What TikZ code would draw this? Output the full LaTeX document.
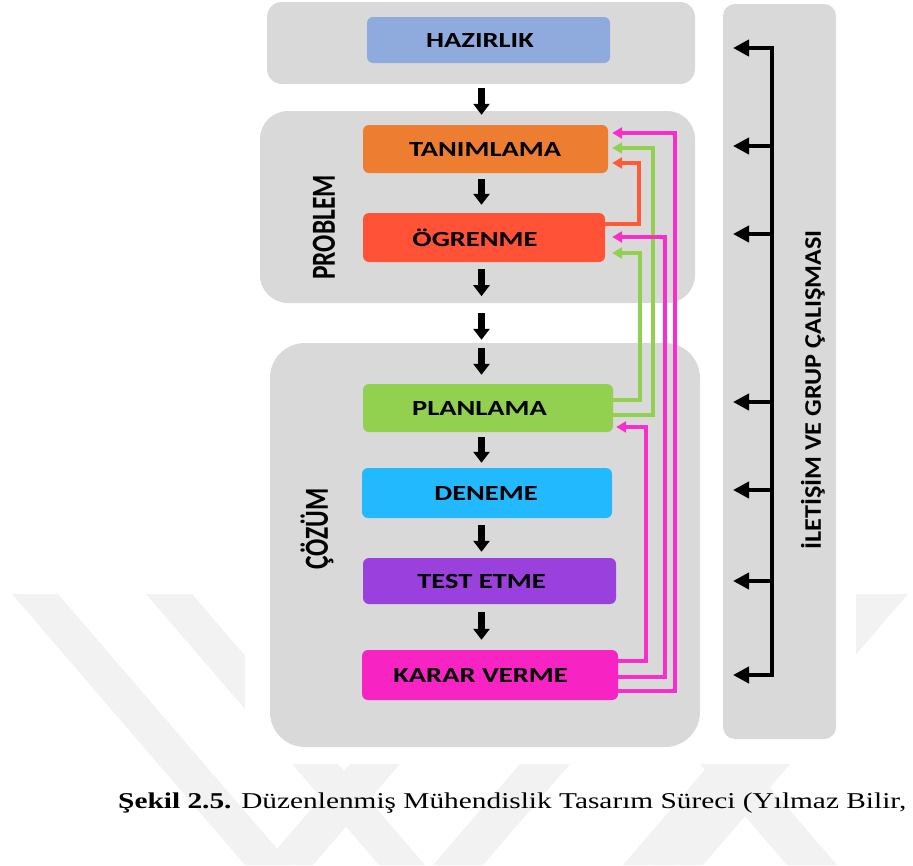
\documentclass[tikz,border=0pt]{standalone}
\usepackage{fontspec}
\setmainfont{Carlito}
\newfontfamily\capfont{Liberation Serif}
\usetikzlibrary{arrows.meta,calc}
\definecolor{grp}{HTML}{D9D9D9}
\definecolor{wmk}{HTML}{F2F2F2}
\definecolor{chaz}{HTML}{8FAADC}
\definecolor{ctan}{HTML}{ED7D31}
\definecolor{cogr}{HTML}{FF5236}
\definecolor{cplan}{HTML}{92D050}
\definecolor{cden}{HTML}{22B9FF}
\definecolor{ctest}{HTML}{9A40DC}
\definecolor{ckar}{HTML}{F724C3}
\definecolor{lmag}{HTML}{F72FC8}
\definecolor{lgrn}{HTML}{92D050}
\definecolor{lred}{HTML}{FF5A36}
\newcommand{\hs}[1]{\scalebox{1.32}[1]{#1}}
\begin{document}
\begin{tikzpicture}[x=1pt,y=-1pt,
  grouprect/.style={fill=grp,draw=none,inner sep=0pt,rectangle},
  stepbox/.style={draw=none,inner sep=0pt,rectangle,rounded corners=6pt},
  lbl/.style={font=\bfseries\fontsize{21.6}{24}\selectfont,inner sep=0pt,text=black},
  downarr/.style={line width=6.5pt,black,-{Triangle[width=16pt,length=11pt]}},
  larr/.style={line width=4pt,black,-{Triangle[width=16pt,length=16pt]}},
  fb/.style={line width=3.2pt,line join=miter,-{Triangle[width=11pt,length=10pt]}},
  vlab/.style={rotate=90,inner sep=0pt,font=\bfseries\fontsize{25.5}{28}\selectfont}]
\useasboundingbox (0,0) rectangle (913,865);
% watermark
\begin{scope}
\clip (0,594) rectangle (913,865);
\fill[wmk] (12,594) -- (58,594) -- (291,865) -- (245,865) -- cycle;
\fill[wmk] (146,594) -- (192,594) -- (425,865) -- (379,865) -- cycle;
\fill[wmk] (856,594) -- (908,594) -- (675,865) -- (623,865) -- cycle;
\fill[wmk] (350,764) -- (400,764) -- (313,865) -- (263,865) -- cycle;
\fill[wmk] (520,764) -- (570,764) -- (483,865) -- (433,865) -- cycle;
\fill[wmk] (740,764) -- (790,764) -- (703,865) -- (653,865) -- cycle;
\fill[wmk] (700,764) -- (750,764) -- (837,865) -- (787,865) -- cycle;
\fill[white] (245,0) rectangle (856,764);
\end{scope}
% group backgrounds
\node[grouprect,rounded corners=15pt,minimum width=428pt,minimum height=82pt] (hazbg) at (481,43) {};
\node[grouprect,rounded corners=28pt,minimum width=435pt,minimum height=192pt] (probbg) at (477.5,207) {};
\node[grouprect,rounded corners=35pt,minimum width=430pt,minimum height=404pt] (cozbg) at (485,545) {};
\node[grouprect,rounded corners=12pt,minimum width=113pt,minimum height=735pt] (iletbg) at (779.5,371.5) {};
% step boxes
\node[stepbox,fill=chaz,minimum width=243pt,minimum height=46pt,label={[lbl,xshift=-8.5pt]center:\hs{HAZIRLIK}}] (haz) at (488.5,40) {};
\node[stepbox,fill=ctan,minimum width=245pt,minimum height=48pt,label={[lbl,xshift=-0.5pt]center:\hs{TANIMLAMA}}] (tan) at (485.5,149) {};
\node[stepbox,fill=cogr,minimum width=242pt,minimum height=49pt,label={[lbl,xshift=-9pt]center:\hs{ÖGRENME}}] (ogr) at (484,237.5) {};
\node[stepbox,fill=cplan,minimum width=250pt,minimum height=48pt,label={[lbl,xshift=-8.5pt]center:\hs{PLANLAMA}}] (plan) at (488,408) {};
\node[stepbox,fill=cden,minimum width=250pt,minimum height=50pt,label={[lbl,xshift=-1pt]center:\hs{DENEME}}] (den) at (487,493) {};
\node[stepbox,fill=ctest,minimum width=253pt,minimum height=46pt,label={[lbl,xshift=-8pt]center:\hs{TEST ETME}}] (test) at (489.5,581) {};
\node[stepbox,fill=ckar,minimum width=256pt,minimum height=50pt,label={[lbl,xshift=-9.5pt]center:\hs{KARAR VERME}}] (kar) at (490,675) {};
% side labels
\node[vlab] (plbl) at (324,227.5) {\scalebox{1}[1.32]{PROBLEM}};
\node[vlab] (clbl) at (317,529) {\scalebox{1}[1.32]{ÇÖZÜM}};
\node[rotate=90,inner sep=0pt,font=\bfseries\fontsize{18}{20}\selectfont] (ilbl) at (813,390) {\scalebox{1.455}[1.32]{İLETİŞİM VE GRUP ÇALIŞMASI}};
% down arrows
\draw[downarr,shorten <=4pt,shorten >=-4pt] (hazbg.south -| 481.5,0) -- (probbg.north -| 481.5,0);
\draw[downarr,shorten <=6pt,shorten >=8pt] (tan.south -| 481.5,0) -- (ogr.north -| 481.5,0);
\draw[downarr,shorten <=7pt,shorten >=7pt] (ogr.south -| 481.5,0) -- (probbg.south -| 481.5,0);
\draw[downarr,shorten <=10pt,shorten >=3pt] (probbg.south -| 481.5,0) -- (cozbg.north -| 481.5,0);
\draw[downarr,shorten <=5pt,shorten >=9pt] (cozbg.north -| 481.5,0) -- (plan.north -| 481.5,0);
\draw[downarr,shorten <=5pt,shorten >=5pt] (plan.south -| 481.5,0) -- (den.north -| 481.5,0);
\draw[downarr,shorten <=7pt,shorten >=6pt] (den.south -| 481.5,0) -- (test.north -| 481.5,0);
\draw[downarr,shorten <=8pt,shorten >=10pt] (test.south -| 481.5,0) -- (kar.north -| 481.5,0);
% communication spine
\foreach \k/\yy in {1/48,2/146,3/234,4/402,5/490,6/581,7/675}{
  \coordinate (s\k) at (772,\yy);
  \coordinate (t\k) at (733,\yy);
}
\draw[line width=4pt,line cap=rect] (s1) -- (s7);
\foreach \k in {1,...,7}{\draw[larr] (s\k) -- (t\k);}
% feedback loops
\draw[fb,lred,shorten >=4pt] (ogr.east |- 0,224) -- (639,224) -- (639,163) -- (tan.east |- 0,163);
\draw[fb,lgrn,shorten >=4pt] (plan.east |- 0,415) -- (653,415) -- (653,148) -- (tan.east |- 0,148);
\draw[fb,lgrn,shorten >=7pt] (plan.east |- 0,400) -- (640,400) -- (640,253) -- (ogr.east |- 0,253);
\draw[fb,lmag,shorten >=4pt] (kar.east |- 0,691) -- (675,691) -- (675,133) -- (tan.east |- 0,133);
\draw[fb,lmag,shorten >=7pt] (kar.east |- 0,677) -- (665,677) -- (665,237) -- (ogr.east |- 0,237);
\draw[fb,lmag,shorten >=3pt] (kar.east |- 0,661) -- (646,661) -- (646,427) -- (plan.east |- 0,427);
% caption
\node[anchor=base west,inner sep=0pt] (cap) at (118,808) {\resizebox{788pt}{\height}{\capfont\fontsize{22.6}{26}\selectfont\textbf{Şekil 2.5.} Düzenlenmiş Mühendislik Tasarım Süreci (Yılmaz Bilir,}};
\end{tikzpicture}
\end{document}
